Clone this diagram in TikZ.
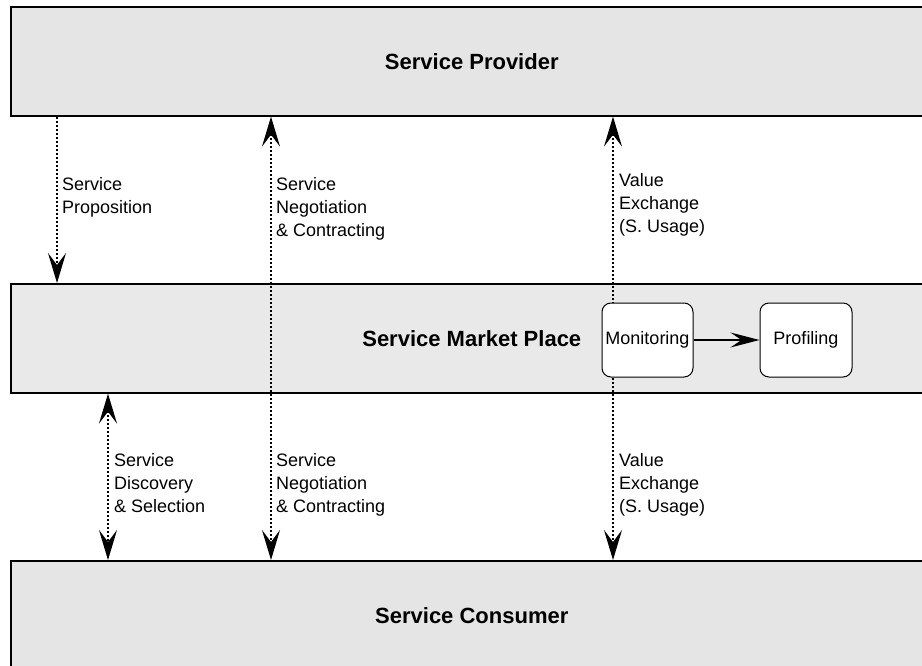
\documentclass[tikz,border=0pt]{standalone}
\usepackage{fontspec}
\setmainfont{Liberation Sans}
\usetikzlibrary{arrows.meta}
\definecolor{bandgray}{RGB}{229,229,229}
\definecolor{bandgraymid}{RGB}{233,233,233}
\begin{document}
\begin{tikzpicture}[x=1pt,y=-1pt,
  band/.style={draw=black, line width=1.6pt, fill=bandgray, minimum width=922pt,
    minimum height=109pt, anchor=north west, inner sep=0pt,
    font=\fontsize{22}{26}\selectfont\bfseries},
  proc/.style={draw=black, line width=1pt, fill=white, rounded corners=9pt,
    minimum width=91pt, minimum height=74pt, inner sep=0pt,
    font=\fontsize{18}{22}\selectfont},
  lbl/.style={anchor=north west, inner sep=0pt, align=left,
    font=\fontsize{18}{23}\selectfont},
  conn/.style={line width=1.2pt, dash pattern=on 2.5pt off 1.5pt},
  tipb/.tip={Stealth[length=30pt, width=18pt, inset=12pt]},
  tips/.tip={Stealth[length=29pt, width=15pt, inset=11pt]}
]
\useasboundingbox (0,0) rectangle (922,666);
\fill[white] (0,0) rectangle (922,666);
\clip (0,0) rectangle (922,666);

% bands
\node[band] (provider) at (10,6) {Service Provider};
\node[band, fill=bandgraymid] (market) at (10,283) {Service Market Place};
\node[band] (consumer) at (10,560) {Service Consumer};

% columns
\coordinate (c1) at (57,0);
\coordinate (c2) at (271,0);
\coordinate (c3) at (613,0);
\coordinate (c4) at (108,0);

% connectors
\draw[conn, -{tipb}] (provider.south -| c1) -- (market.north -| c1);
\draw[conn, {tipb}-{tipb}] (provider.south -| c2) -- (consumer.north -| c2);
\draw[conn, {tipb}-{tipb}] (provider.south -| c3) -- (consumer.north -| c3);
\draw[conn, {tipb}-{tipb}] (market.south -| c4) -- (consumer.north -| c4);

% process boxes
\node[proc] (mon) at (647.5,340) {Monitoring};
\node[proc, minimum width=92pt] (prof) at (806,340) {Profiling};
\draw[line width=1.5pt, -{tips}] (mon.east) -- (prof.west);

% labels
\node[lbl] (l1) at (62,177) {Service\\Proposition};
\node[lbl] (l2) at (276,177) {Service\\Negotiation\\\& Contracting};
\node[lbl] (l3) at (619,173) {Value\\Exchange\\(S. Usage)};
\node[lbl] (l4) at (114,453) {Service\\Discovery\\\& Selection};
\node[lbl] (l5) at (276,453) {Service\\Negotiation\\\& Contracting};
\node[lbl] (l6) at (619,453) {Value\\Exchange\\(S. Usage)};
\end{tikzpicture}
\end{document}
